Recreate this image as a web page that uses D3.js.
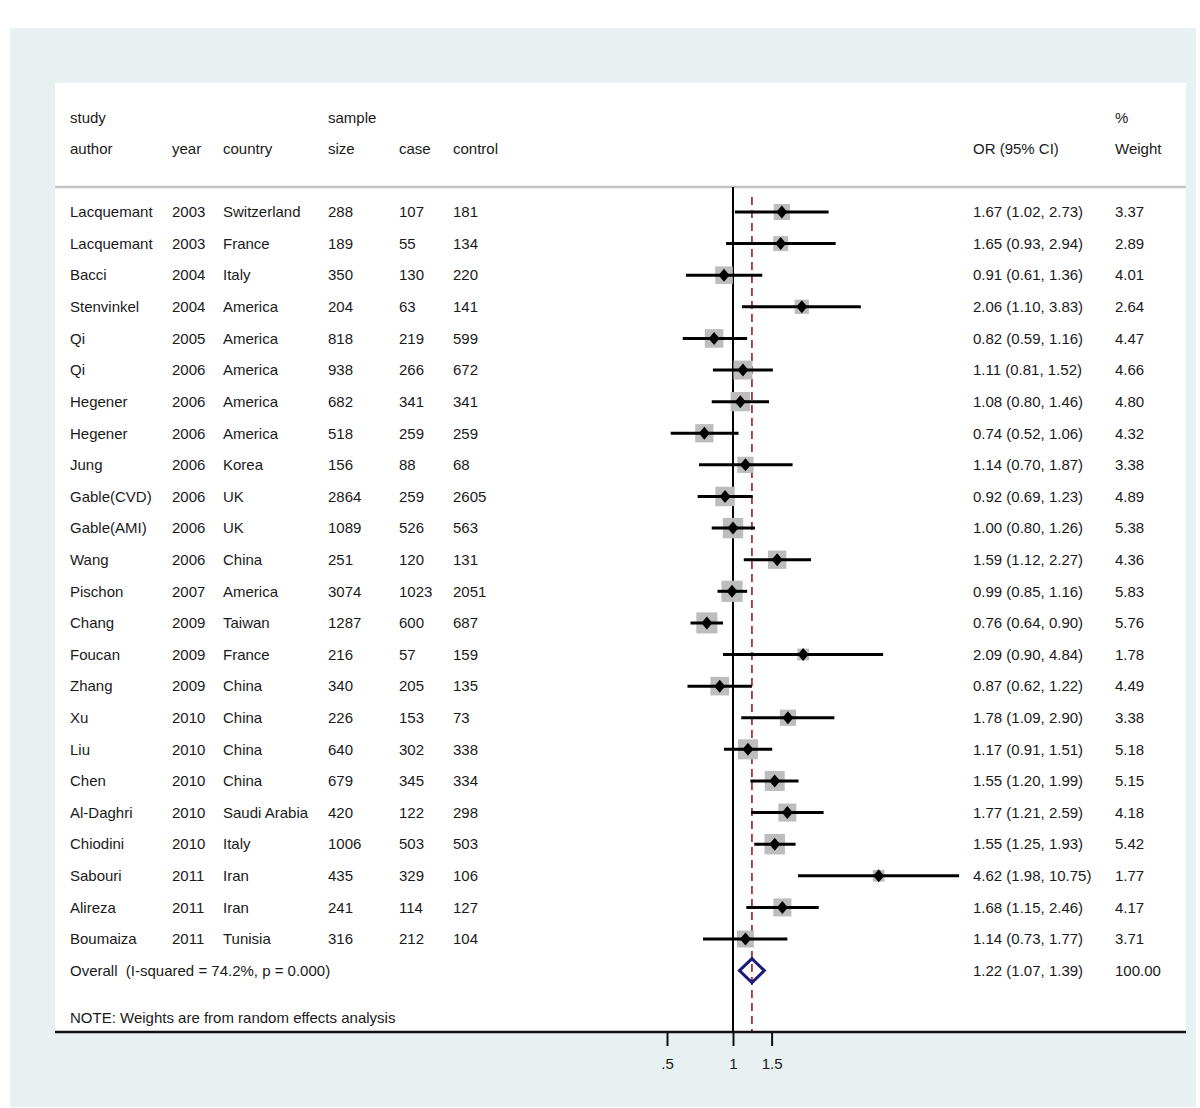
<!DOCTYPE html>
<html>
<head>
<meta charset="utf-8">
<script src="https://cdn.jsdelivr.net/npm/d3@7/dist/d3.min.js"></script>
<style>
  html, body { margin: 0; padding: 0; background: #ffffff; }
  svg text { font-family: "Liberation Sans", Arial, Helvetica, sans-serif; fill: #1a1a1a; white-space: pre; }
</style>
</head>
<body>
<svg id="chart" width="1200" height="1108"></svg>
<script>
const authors = ["Lacquemant","Lacquemant","Bacci","Stenvinkel","Qi","Qi","Hegener","Hegener","Jung","Gable(CVD)","Gable(AMI)","Wang","Pischon","Chang","Foucan","Zhang","Xu","Liu","Chen","Al-Daghri","Chiodini","Sabouri","Alireza","Boumaiza"];
const years = ["2003","2003","2004","2004","2005","2006","2006","2006","2006","2006","2006","2006","2007","2009","2009","2009","2010","2010","2010","2010","2010","2011","2011","2011"];
const countries = ["Switzerland","France","Italy","America","America","America","America","America","Korea","UK","UK","China","America","Taiwan","France","China","China","China","China","Saudi Arabia","Italy","Iran","Iran","Tunisia"];
const sampleSize = [288,189,350,204,818,938,682,518,156,2864,1089,251,3074,1287,216,340,226,640,679,420,1006,435,241,316];
const cases = [107,55,130,63,219,266,341,259,88,259,526,120,1023,600,57,205,153,302,345,122,503,329,114,212];
const controls = [181,134,220,141,599,672,341,259,68,2605,563,131,2051,687,159,135,73,338,334,298,503,106,127,104];
const orValues = [1.67,1.65,0.91,2.06,0.82,1.11,1.08,0.74,1.14,0.92,1.00,1.59,0.99,0.76,2.09,0.87,1.78,1.17,1.55,1.77,1.55,4.62,1.68,1.14];
const ciLow = [1.02,0.93,0.61,1.10,0.59,0.81,0.80,0.52,0.70,0.69,0.80,1.12,0.85,0.64,0.90,0.62,1.09,0.91,1.20,1.21,1.25,1.98,1.15,0.73];
const ciHigh = [2.73,2.94,1.36,3.83,1.16,1.52,1.46,1.06,1.87,1.23,1.26,2.27,1.16,0.90,4.84,1.22,2.90,1.51,1.99,2.59,1.93,10.75,2.46,1.77];
const weights = ["3.37","2.89","4.01","2.64","4.47","4.66","4.80","4.32","3.38","4.89","5.38","4.36","5.83","5.76","1.78","4.49","3.38","5.18","5.15","4.18","5.42","1.77","4.17","3.71"];
const overall = {or: 1.22, lo: 1.07, hi: 1.39, weight: "100.00", label: "Overall  (I-squared = 74.2%, p = 0.000)"};
const headerTop = ["study","","","sample","","","",""];
const headerBottom = ["author","year","country","size","case","control","OR (95% CI)","Weight"];
const tickValues = [0.5, 1, 1.5];
const tickLabels = [".5","1","1.5"];
const noteText = "NOTE: Weights are from random effects analysis";

const svg = d3.select("#chart");
const fmt = d3.format(".2f");

// backgrounds
svg.append("rect").attr("x",10).attr("y",28).attr("width",1186).attr("height",1079).attr("fill","#e8f0f2");
svg.append("rect").attr("x",55).attr("y",83).attr("width",1131).attr("height",949).attr("fill","#ffffff");

// scales
const x = d3.scaleLog().domain([0.5, 1.5]).range([667, 771.6]);
const n = authors.length;
const y = d3.scaleLinear().domain([0, n - 1]).range([212, 939]);
const rowStep = y(1) - y(0);
const yOverall = y(n - 1) + rowStep;

// column positions
const colX = [70, 172, 223, 328, 399, 453, 973, 1115];

// header
const hdr = svg.append("g").attr("font-size", 15);
headerTop.forEach((t, i) => { if (t) hdr.append("text").attr("x", colX[i]).attr("y", 118).attr("dy","0.35em").text(t); });
hdr.append("text").attr("x", colX[7]).attr("y", 118).attr("dy","0.35em").text("%");
headerBottom.forEach((t, i) => hdr.append("text").attr("x", colX[i]).attr("y", 149).attr("dy","0.35em").text(t));

// header separator
svg.append("line").attr("x1",55).attr("x2",1186).attr("y1",187).attr("y2",187).attr("stroke","#c4c4c4").attr("stroke-width",2.5);

// null line
svg.append("line").attr("x1",x(1)).attr("x2",x(1)).attr("y1",187).attr("y2",1032).attr("stroke","#000").attr("stroke-width",2);

// overall dashed line
svg.append("line").attr("x1",x(overall.or)).attr("x2",x(overall.or)).attr("y1",197).attr("y2",1032)
  .attr("stroke","#a8323a").attr("stroke-width",1.8).attr("stroke-dasharray","8,5");

// rows
const rows = d3.range(n);
const g = svg.append("g");
const half = i => 4.4 * Math.sqrt(+weights[i]);
g.selectAll("rect.w").data(rows).join("rect")
  .attr("class","w")
  .attr("x", i => x(orValues[i]) - half(i))
  .attr("y", i => y(i) - half(i))
  .attr("width", i => 2 * half(i))
  .attr("height", i => 2 * half(i))
  .attr("fill","#bdbdbd");
g.selectAll("line.ci").data(rows).join("line")
  .attr("class","ci")
  .attr("x1", i => x(ciLow[i])).attr("x2", i => x(ciHigh[i]))
  .attr("y1", i => y(i)).attr("y2", i => y(i))
  .attr("stroke","#000").attr("stroke-width",3);
g.selectAll("path.pt").data(rows).join("path")
  .attr("class","pt")
  .attr("d", i => { const cx = x(orValues[i]), cy = y(i); return `M${cx},${cy-6.5}L${cx+5.5},${cy}L${cx},${cy+6.5}L${cx-5.5},${cy}Z`; })
  .attr("fill","#000");

// text columns
const tg = svg.append("g").attr("font-size", 15);
const cols = [authors, years, countries, sampleSize, cases, controls];
cols.forEach((arr, c) => {
  tg.selectAll(null).data(rows).join("text")
    .attr("x", colX[c]).attr("y", i => y(i)).attr("dy","0.35em").text(i => arr[i]);
});
tg.selectAll(null).data(rows).join("text")
  .attr("x", colX[6]).attr("y", i => y(i)).attr("dy","0.35em")
  .text(i => `${fmt(orValues[i])} (${fmt(ciLow[i])}, ${fmt(ciHigh[i])})`);
tg.selectAll(null).data(rows).join("text")
  .attr("x", colX[7]).attr("y", i => y(i)).attr("dy","0.35em").text(i => weights[i]);

// overall
tg.append("text").attr("x", colX[0]).attr("y", yOverall).attr("dy","0.35em").text(overall.label);
tg.append("text").attr("x", colX[6]).attr("y", yOverall).attr("dy","0.35em")
  .text(`${fmt(overall.or)} (${fmt(overall.lo)}, ${fmt(overall.hi)})`);
tg.append("text").attr("x", colX[7]).attr("y", yOverall).attr("dy","0.35em").text(overall.weight);
svg.append("path")
  .attr("d", `M${x(overall.lo)},${yOverall}L${x(overall.or)},${yOverall-12}L${x(overall.hi)},${yOverall}L${x(overall.or)},${yOverall+12}Z`)
  .attr("fill","none").attr("stroke","#1c1c78").attr("stroke-width",3);

// note
tg.append("text").attr("x", colX[0]).attr("y", 1018).attr("dy","0.35em").text(noteText);

// axis
svg.append("line").attr("x1",55).attr("x2",1186).attr("y1",1032).attr("y2",1032).attr("stroke","#111").attr("stroke-width",2.5);
const axis = d3.axisBottom(x).tickValues(tickValues).tickFormat((d, i) => tickLabels[i]).tickSize(14).tickPadding(12);
const ag = svg.append("g").attr("transform","translate(0,1032)").call(axis);
ag.select(".domain").remove();
ag.selectAll(".tick line").attr("stroke","#111").attr("stroke-width",2);
ag.selectAll(".tick text").attr("font-size",15).attr("font-family","Liberation Sans, Arial, sans-serif").attr("fill","#1a1a1a");
</script>
</body>
</html>
